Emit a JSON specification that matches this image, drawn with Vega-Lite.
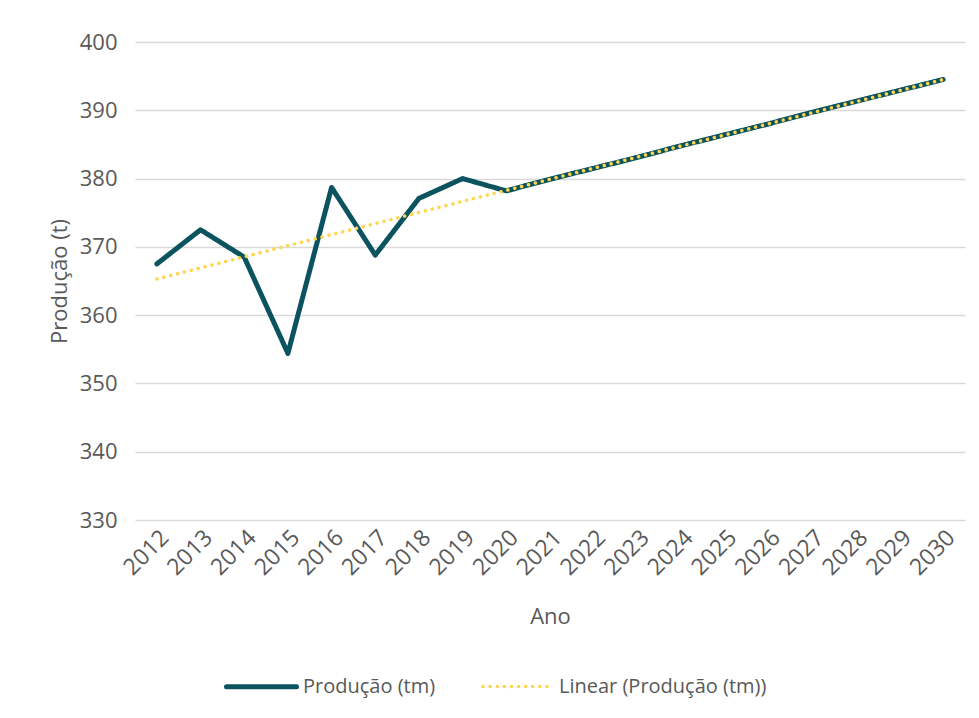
{
  "$schema": "https://vega.github.io/schema/vega-lite/v6.json",
  "width": 830,
  "height": 478,
  "autosize": {"type": "none"},
  "padding": {"left": 135, "top": 42, "right": 14, "bottom": 198},
  "background": "white",
  "config": {
    "font": "Open Sans",
    "view": {"stroke": null},
    "axis": {"labelColor": "#595959", "titleColor": "#595959", "titleFontWeight": "normal"},
    "legend": {"labelLimit": 0}
  },
  "data": {
    "values": [
      {"ano": "2012", "valor": 367.5, "serie": "Produção (tm)"},
      {"ano": "2013", "valor": 372.5, "serie": "Produção (tm)"},
      {"ano": "2014", "valor": 368.5, "serie": "Produção (tm)"},
      {"ano": "2015", "valor": 354.4, "serie": "Produção (tm)"},
      {"ano": "2016", "valor": 378.7, "serie": "Produção (tm)"},
      {"ano": "2017", "valor": 368.8, "serie": "Produção (tm)"},
      {"ano": "2018", "valor": 377.1, "serie": "Produção (tm)"},
      {"ano": "2019", "valor": 380.0, "serie": "Produção (tm)"},
      {"ano": "2020", "valor": 378.2, "serie": "Produção (tm)"},
      {"ano": "2021", "valor": 379.9, "serie": "Produção (tm)"},
      {"ano": "2022", "valor": 381.5, "serie": "Produção (tm)"},
      {"ano": "2023", "valor": 383.1, "serie": "Produção (tm)"},
      {"ano": "2024", "valor": 384.8, "serie": "Produção (tm)"},
      {"ano": "2025", "valor": 386.4, "serie": "Produção (tm)"},
      {"ano": "2026", "valor": 388.0, "serie": "Produção (tm)"},
      {"ano": "2027", "valor": 389.7, "serie": "Produção (tm)"},
      {"ano": "2028", "valor": 391.3, "serie": "Produção (tm)"},
      {"ano": "2029", "valor": 392.9, "serie": "Produção (tm)"},
      {"ano": "2030", "valor": 394.5, "serie": "Produção (tm)"},
      {"ano": "2012", "valor": 365.3, "serie": "Linear (Produção (tm))"},
      {"ano": "2030", "valor": 394.5, "serie": "Linear (Produção (tm))"}
    ]
  },
  "encoding": {
    "x": {
      "field": "ano", "type": "ordinal", "sort": null,
      "scale": {"type": "point", "padding": 0.5},
      "axis": {"title": "Ano", "labelAngle": -45, "labelFontSize": 23, "titleFontSize": 22, "labelPadding": 6, "titlePadding": 27, "ticks": false, "domain": false, "grid": false}
    },
    "y": {
      "field": "valor", "type": "quantitative",
      "scale": {"domain": [330, 400], "nice": false, "zero": false},
      "axis": {"title": "Produção (t)", "values": [330, 340, 350, 360, 370, 380, 390, 400], "labelFontSize": 22, "titleFontSize": 22, "labelPadding": 18, "titlePadding": 8, "ticks": false, "domain": false, "gridColor": "#d9d9d9", "gridWidth": 1.5}
    },
    "color": {
      "field": "serie", "type": "nominal",
      "scale": {"domain": ["Produção (tm)", "Linear (Produção (tm))"], "range": ["#0b535e", "#ffd54f"]},
      "legend": {"title": null, "orient": "none", "direction": "horizontal", "legendX": 89, "legendY": 607, "symbolType": "stroke", "symbolSize": 4900, "labelFontSize": 20, "labelColor": "#595959", "columnPadding": 40, "labelOffset": 4, "labelLimit": 0, "encode": {"symbols": {"update": {"strokeCap": {"value": "round"}}}}}
    },
    "strokeDash": {
      "field": "serie", "type": "nominal",
      "scale": {"domain": ["Produção (tm)", "Linear (Produção (tm))"], "range": [[1, 0], [0.1, 7]]},
      "legend": {"title": null, "orient": "none", "direction": "horizontal", "legendX": 89, "legendY": 607, "symbolType": "stroke", "symbolSize": 4900, "labelFontSize": 20, "labelColor": "#595959", "columnPadding": 40, "labelOffset": 4, "labelLimit": 0, "encode": {"symbols": {"update": {"strokeCap": {"value": "round"}}}}}
    },
    "strokeWidth": {
      "field": "serie", "type": "nominal",
      "scale": {"domain": ["Produção (tm)", "Linear (Produção (tm))"], "range": [5, 3.5]},
      "legend": {"title": null, "orient": "none", "direction": "horizontal", "legendX": 89, "legendY": 607, "symbolType": "stroke", "symbolSize": 4900, "labelFontSize": 20, "labelColor": "#595959", "columnPadding": 40, "labelOffset": 4, "labelLimit": 0, "encode": {"symbols": {"update": {"strokeCap": {"value": "round"}}}}}
    }
  },
  "layer": [
    {
      "transform": [{"filter": "datum.serie === 'Produção (tm)'"}],
      "mark": {"type": "line", "strokeJoin": "round", "strokeCap": "round"}
    },
    {
      "transform": [{"filter": "datum.serie !== 'Produção (tm)'"}],
      "mark": {"type": "line", "strokeCap": "round"}
    }
  ]
}
